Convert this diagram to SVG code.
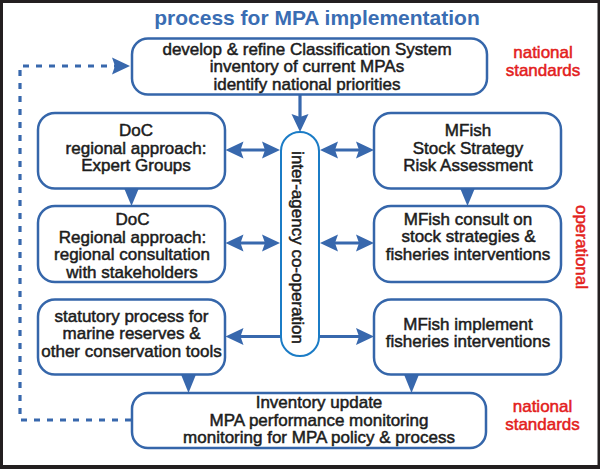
<svg xmlns="http://www.w3.org/2000/svg" width="600" height="469" viewBox="0 0 600 469">
<style>
.box{fill:#fff;stroke:#3566aa;stroke-width:2.5}
.pill{fill:#fff;stroke:#1b7cc6;stroke-width:2}
.t{font-family:"Liberation Sans",Arial,sans-serif;font-size:17px;fill:#1c1c1c;stroke:#1c1c1c;stroke-width:0.5;text-anchor:middle}
.red{font-family:"Liberation Sans",Arial,sans-serif;font-size:17px;fill:#e3201c;stroke:#e3201c;stroke-width:0.5;text-anchor:middle}
.title{font-family:"Liberation Sans",Arial,sans-serif;font-size:21px;font-weight:bold;fill:#3a6db3;text-anchor:middle}
.ln{fill:none;stroke:#3868ad;stroke-width:3.2}
.dash{fill:none;stroke:#3868ad;stroke-width:3.2;stroke-dasharray:6 7}
.tri{fill:#3868ad}
</style>
<defs>
<marker id="ah" viewBox="0 0 18 18" markerUnits="userSpaceOnUse" markerWidth="18" markerHeight="18" refX="8" refY="9" orient="auto-start-reverse">
<path d="M0,0.5 L18,9 L0,17.5 L3,9 z" fill="#3868ad"/>
</marker>
</defs>
<rect x="0" y="0" width="600" height="469" fill="#231f20"/>
<rect x="3" y="3" width="594.5" height="462" fill="#fff"/>
<text class="title" x="317" y="25">process for MPA implementation</text>
<g id="connectors">
<path class="dash" d="M131,420 H20 V66 H120" marker-end="url(#ah)"/>
<line class="ln" x1="300" y1="95" x2="300" y2="122" marker-end="url(#ah)"/>
<line class="ln" x1="235.5" y1="150" x2="270" y2="150" marker-start="url(#ah)" marker-end="url(#ah)"/>
<line class="ln" x1="330" y1="150" x2="364" y2="150" marker-start="url(#ah)" marker-end="url(#ah)"/>
<line class="ln" x1="235.5" y1="243" x2="270" y2="243" marker-start="url(#ah)" marker-end="url(#ah)"/>
<line class="ln" x1="330" y1="243" x2="364" y2="243" marker-start="url(#ah)" marker-end="url(#ah)"/>
<line class="ln" x1="281" y1="336.5" x2="235.5" y2="336.5" marker-end="url(#ah)"/>
<line class="ln" x1="319" y1="336.5" x2="364" y2="336.5" marker-end="url(#ah)"/>
<path class="tri" d="M124,188 L139,188 L131.5,206 z"/>
<path class="tri" d="M460,188 L475,188 L467.5,206 z"/>
<path class="tri" d="M181,374.5 L196,374.5 L188.5,393 z"/>
<path class="tri" d="M404,374.5 L419,374.5 L411.5,393 z"/>
</g>
<g id="top">
<rect class="box" x="132" y="38.5" width="355" height="56" rx="16"/>
<text class="t" x="307" y="54.5">develop &amp; refine Classification System</text>
<text class="t" x="307" y="72">inventory of current MPAs</text>
<text class="t" x="307" y="89.5">identify national priorities</text>
</g>
<g id="doc1">
<rect class="box" x="38" y="113" width="187" height="75.5" rx="17"/>
<text class="t" x="136" y="136">DoC</text>
<text class="t" x="136" y="153.5">regional approach:</text>
<text class="t" x="136" y="171">Expert Groups</text>
</g>
<g id="doc2">
<rect class="box" x="38" y="206" width="187" height="76" rx="17"/>
<text class="t" x="132.5" y="225">DoC</text>
<text class="t" x="132.5" y="242.5">Regional approach:</text>
<text class="t" x="132" y="260">regional consultation</text>
<text class="t" x="132" y="277.5">with stakeholders</text>
</g>
<g id="statutory">
<rect class="box" x="38" y="299.5" width="187" height="75" rx="17"/>
<text class="t" x="131.5" y="321.8">statutory process for</text>
<text class="t" x="131.5" y="339.3">marine reserves &amp;</text>
<text class="t" x="131.5" y="356.8">other conservation tools</text>
</g>
<g id="mfish1">
<rect class="box" x="374" y="113" width="187" height="75.5" rx="17"/>
<text class="t" x="468" y="136">MFish</text>
<text class="t" x="468" y="153.5">Stock Strategy</text>
<text class="t" x="468" y="171">Risk Assessment</text>
</g>
<g id="mfish2">
<rect class="box" x="374" y="206" width="187" height="76" rx="17"/>
<text class="t" x="468" y="224.5">MFish consult on</text>
<text class="t" x="468.5" y="242">stock strategies &amp;</text>
<text class="t" x="468" y="259.5">fisheries interventions</text>
</g>
<g id="mfish3">
<rect class="box" x="374" y="299.5" width="187" height="75" rx="17"/>
<text class="t" x="468" y="329.5">MFish implement</text>
<text class="t" x="468" y="347">fisheries interventions</text>
</g>
<g id="bottom">
<rect class="box" x="132" y="393" width="354" height="55" rx="16"/>
<text class="t" x="319" y="408">Inventory update</text>
<text class="t" x="319" y="425.5">MPA performance monitoring</text>
<text class="t" x="319" y="443">monitoring for MPA policy &amp; process</text>
</g>
<g id="interagency">
<rect class="pill" x="281" y="132" width="38" height="224" rx="19"/>
<text class="t" transform="translate(292,247.5) rotate(90)" x="0" y="0">inter-agency co-operation</text>
</g>
<g id="labels">
<text class="red" x="543" y="58">national</text>
<text class="red" x="543" y="76">standards</text>
<text class="red" transform="translate(575.5,247) rotate(90)" x="0" y="0">operational</text>
<text class="red" x="542.5" y="412">national</text>
<text class="red" x="542.5" y="430">standards</text>
</g>
</svg>
